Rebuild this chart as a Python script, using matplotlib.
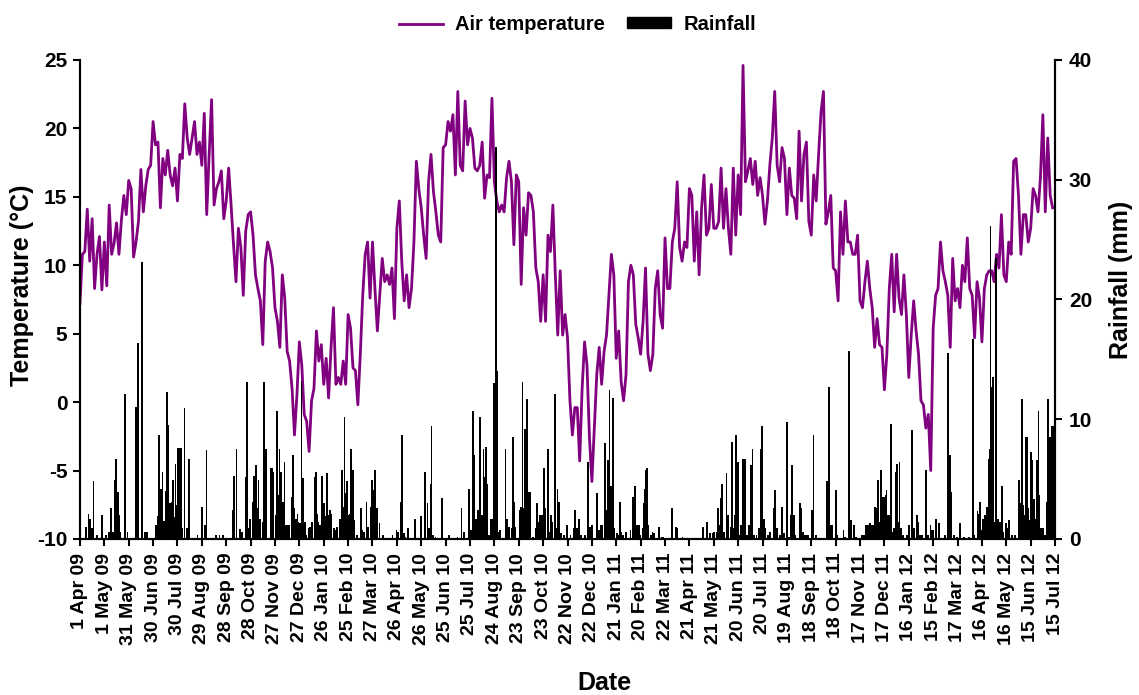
import numpy as np
import matplotlib
matplotlib.use("Agg")
import matplotlib.pyplot as plt
from matplotlib.lines import Line2D
from matplotlib.patches import Rectangle

plt.rcParams['font.family'] = ['Liberation Sans', 'DejaVu Sans']
plt.rcParams['font.weight'] = 'bold'
plt.rcParams['axes.unicode_minus'] = False

# x tick labels, one every 30 days from 1 Apr 2009
date_labels = ['1 Apr 09', '1 May 09', '31 May 09', '30 Jun 09', '30 Jul 09', '29 Aug 09',
               '28 Sep 09', '28 Oct 09', '27 Nov 09', '27 Dec 09', '26 Jan 10', '25 Feb 10',
               '27 Mar 10', '26 Apr 10', '26 May 10', '25 Jun 10', '25 Jul 10', '24 Aug 10',
               '23 Sep 10', '23 Oct 10', '22 Nov 10', '22 Dec 10', '21 Jan 11', '20 Feb 11',
               '22 Mar 11', '21 Apr 11', '21 May 11', '20 Jun 11', '20 Jul 11', '19 Aug 11',
               '18 Sep 11', '18 Oct 11', '17 Nov 11', '17 Dec 11', '16 Jan 12', '15 Feb 12',
               '17 Mar 12', '16 Apr 12', '16 May 12', '15 Jun 12', '15 Jul 12']

# air temperature (deg C), read every 3 days starting 1 Apr 2009
temp_2009a = [7.2, 10.8, 11.0, 14.1, 10.3, 13.4, 8.3, 10.8, 12.1, 8.2,
              11.7, 8.5, 14.4, 10.8, 11.6, 13.1, 10.8, 13.3, 15.1, 13.7,
              16.2, 15.6, 10.6, 11.7, 13.2, 17.0, 13.9, 15.8, 17.0, 17.3,
              20.5, 18.8, 19.0, 14.2, 17.8, 16.6, 18.4, 16.6, 15.8, 17.1,
              14.7, 18.1, 17.8, 21.8, 19.3, 18.1, 19.3, 20.5, 18.1, 19.0,
              17.3, 21.1, 13.7, 18.1, 22.1, 14.4, 15.6, 16.1]
temp_2009b = [16.9, 13.4, 14.7, 17.1, 14.4, 11.5, 8.8, 12.7, 11.3, 7.8,
              12.5, 13.7, 13.9, 12.2, 9.3, 8.3, 7.4, 4.2, 10.3, 11.7,
              11.0, 9.8, 6.9, 5.9, 4.0, 9.3, 7.6, 3.7, 3.0, 1.0,
              -2.4, 0.5, 4.4, 2.7, -0.9, -1.4, -3.6, 0.1, 1.0, 5.2,
              3.0, 4.2, 1.3, 3.2, 0.3, 4.0, 6.9, 1.3, 1.8, 1.3,
              3.0, 1.3, 6.4, 5.4, 2.5, 2.3, -0.2, 3.5]
temp_2010a = [7.8, 10.8, 11.7, 7.6, 11.7, 8.3, 5.2, 7.8, 10.5, 8.8,
              9.3, 8.6, 9.8, 6.1, 12.7, 14.7, 10.3, 7.4, 9.3, 6.9,
              8.3, 11.7, 17.6, 15.6, 14.2, 12.2, 10.5, 16.1, 18.1, 15.4,
              13.9, 12.2, 11.7, 18.6, 18.8, 20.5, 19.8, 21.0, 16.6, 22.7,
              17.3, 16.9, 22.0, 18.8, 20.0, 19.3, 17.1, 16.9, 17.3, 19.0,
              14.9, 16.6, 16.4, 22.2, 16.1, 14.7, 13.9]
temp_2010b = [14.4, 13.9, 16.4, 17.6, 16.1, 11.5, 16.6, 16.1, 8.6, 14.2,
              12.2, 15.3, 15.1, 13.9, 9.8, 8.8, 5.9, 9.3, 5.9, 12.2,
              11.0, 14.4, 9.3, 4.9, 9.6, 4.9, 6.4, 4.7, 0.1, -2.4,
              -0.4, -0.4, -4.3, 1.0, 4.4, 2.7, -2.6, -5.8, -1.9, 2.0,
              4.0, 1.3, 3.7, 4.9, 7.8, 10.8, 9.3, 3.2, 5.2, 1.5,
              0.1, 2.0, 8.8, 10.0, 9.3, 5.7, 4.7]
temp_2011a = [3.5, 5.9, 9.8, 3.5, 2.3, 3.5, 8.3, 9.6, 6.4, 5.4,
              12.0, 8.3, 8.3, 11.7, 12.7, 16.1, 11.3, 10.3, 11.7, 11.3,
              15.6, 15.1, 10.3, 13.9, 9.3, 14.2, 16.6, 12.2, 12.7, 15.9,
              12.7, 12.7, 13.2, 17.1, 12.7, 15.6, 12.7, 10.8, 17.1, 12.2,
              16.6, 13.7, 24.6, 16.1, 16.9, 17.8, 15.9, 17.6, 15.1, 16.4,
              15.1, 13.0, 14.7, 17.3, 19.3, 22.7, 17.3]
temp_2011b = [16.1, 18.6, 17.8, 13.7, 17.1, 15.1, 14.9, 13.4, 19.8, 14.7,
              18.1, 19.0, 13.2, 12.2, 16.6, 14.7, 18.1, 21.2, 22.7, 13.0,
              13.9, 15.1, 9.8, 9.6, 7.4, 13.9, 10.8, 14.7, 11.7, 11.7,
              10.8, 10.8, 12.2, 7.4, 6.9, 8.8, 10.3, 8.3, 6.9, 4.0,
              6.1, 4.2, 4.0, 0.9, 3.5, 8.3, 10.8, 6.6, 10.8, 7.6,
              6.4, 9.3, 6.4, 1.8, 4.9, 7.4, 5.2]
temp_2012 = [3.5, 0.1, -0.2, -1.9, -0.9, -5.0, 5.4, 7.8, 8.3, 11.7,
             9.6, 8.8, 7.8, 4.0, 10.5, 7.4, 8.3, 6.9, 10.0, 8.8,
             12.0, 8.3, 7.8, 4.7, 8.8, 7.6, 4.4, 8.3, 9.3, 9.6,
             9.6, 8.8, 10.8, 9.8, 13.7, 9.3, 8.8, 11.7, 10.8, 17.6,
             17.8, 15.1, 10.8, 13.7, 13.7, 11.7, 12.7, 15.6, 15.1, 13.9,
             16.4, 21.0, 13.9, 19.3, 15.1, 14.2]

# rainfall events (day since 1 Apr 2009, mm)
rain_events = [
    (7, 1.0), (10, 2.1), (12, 1.7), (14, 0.9), (16, 4.8), (20, 0.3), (27, 2.0), (31, 0.3),
    (35, 0.6), (38, 2.6), (40, 0.6), (42, 4.9), (44, 6.7), (46, 3.9), (47, 2.0), (49, 0.6),
    (55, 12.1), (58, 0.6), (68, 11.0), (70, 3.0), (71, 16.4), (76, 23.1), (79, 0.6), (82, 0.6),
    (93, 1.2), (95, 1.9), (97, 8.7), (99, 4.2), (101, 5.6), (103, 1.5), (105, 4.0), (107, 12.3),
    (108, 9.5), (110, 3.0), (111, 2.0), (112, 3.1), (114, 4.9), (116, 1.8), (117, 6.3), (118, 2.8),
    (120, 7.6), (122, 7.6), (124, 7.6), (125, 0.9), (128, 10.9), (131, 0.9), (134, 6.7), (144, 0.3),
    (150, 2.7), (153, 1.2), (155, 7.4), (167, 0.3), (171, 0.3),
    (175, 0.3), (187, 2.4), (189, 5.3), (192, 7.5), (196, 0.8), (199, 0.6), (203, 5.2), (205, 13.1),
    (207, 0.9), (209, 1.7), (212, 3.1), (214, 5.3), (216, 6.2), (217, 2.6), (219, 4.9), (221, 1.7),
    (224, 1.4), (226, 13.1), (228, 7.5), (229, 1.7), (234, 5.9), (236, 5.9), (237, 5.6), (240, 2.0),
    (242, 10.7), (243, 3.7), (245, 7.5), (247, 5.6), (249, 3.1), (251, 6.4), (253, 1.2), (255, 1.2),
    (257, 1.2), (260, 3.5), (262, 7.0), (263, 2.6), (265, 1.7), (267, 2.1), (268, 1.4), (270, 1.3),
    (272, 13.2), (274, 5.1), (276, 1.4), (278, 0.3), (281, 0.9), (282, 1.0), (285, 1.4), (288, 5.2),
    (290, 5.6), (291, 2.1), (293, 1.4), (295, 1.2), (297, 5.3), (300, 3.0), (301, 1.9), (303, 5.5),
    (305, 2.0), (307, 2.4), (309, 2.1), (312, 0.9), (314, 0.75), (316, 1.0), (319, 1.7), (322, 5.8),
    (323, 2.7), (325, 10.2), (326, 3.8), (328, 4.8), (330, 2.0), (332, 2.1), (333, 7.5), (335, 5.8),
    (337, 1.6), (340, 0.3), (345, 2.6),
    (347, 0.75), (349, 0.6), (352, 3.1), (354, 1.0), (357, 2.7), (359, 4.9), (360, 4.1), (362, 5.8),
    (363, 4.5), (365, 2.6), (368, 1.3), (372, 0.3), (384, 0.3), (389, 0.75), (391, 0.6), (394, 3.1),
    (396, 8.7), (398, 0.5), (400, 0.2), (403, 0.9), (412, 1.7), (419, 1.9), (424, 5.6), (427, 3.0),
    (429, 0.9), (431, 4.6), (432, 9.4), (434, 0.3), (437, 0.2), (445, 3.4), (454, 0.3), (464, 0.2),
    (469, 2.6), (472, 0.6), (478, 4.2), (481, 0.75), (483, 10.7), (485, 7.0), (487, 1.7), (489, 2.4),
    (490, 2.3), (492, 10.2), (494, 2.0), (496, 7.5), (497, 5.2), (499, 7.7), (501, 4.6), (503, 0.3),
    (505, 1.7), (507, 1.7), (509, 13.0), (511, 32.7), (513, 14.0), (514, 0.6),
    (516, 0.75), (523, 7.5), (525, 1.7), (527, 1.0), (531, 0.9), (532, 8.5), (534, 3.1), (535, 1.0),
    (541, 2.4), (542, 2.7), (544, 13.1), (546, 2.6), (547, 9.2), (549, 0.1), (550, 11.7), (551, 3.9),
    (553, 3.9), (557, 0.2), (560, 0.9), (562, 3.0), (564, 1.4), (565, 0.9), (566, 2.0), (568, 2.0),
    (570, 5.9), (572, 2.6), (575, 7.5), (577, 0.6), (579, 2.0), (581, 1.4), (584, 12.1), (586, 0.9),
    (587, 4.2), (589, 3.1), (591, 0.5), (595, 0.3), (599, 1.2), (603, 0.3), (607, 0.9), (609, 2.4),
    (611, 0.9), (614, 1.7), (616, 0.3), (621, 0.3), (624, 2.4), (625, 6.4), (627, 1.0), (630, 1.2),
    (636, 3.8), (638, 0.75), (640, 1.2), (642, 1.2), (645, 1.9), (646, 8.0), (648, 2.4), (649, 6.6),
    (651, 12.4), (653, 4.4), (655, 11.8), (657, 0.9), (660, 0.5), (662, 0.3), (664, 3.1), (665, 0.6),
    (668, 0.3), (671, 0.6), (677, 0.75), (680, 3.5), (682, 4.4), (684, 1.2), (686, 1.2),
    (687, 1.2), (689, 0.3), (692, 0.9), (693, 3.0), (695, 4.2), (696, 5.8), (697, 5.9), (698, 1.2),
    (702, 0.3), (704, 0.6), (706, 0.5), (712, 1.0), (715, 0.2), (717, 0.2), (728, 2.6), (733, 1.0),
    (734, 0.9), (741, 0.2), (766, 1.0), (771, 1.4), (775, 0.5), (778, 0.5), (780, 0.6), (783, 0.6),
    (785, 2.6), (786, 1.2), (788, 3.4), (790, 4.6), (792, 0.6), (795, 5.5), (797, 2.0), (800, 1.0),
    (802, 8.1), (804, 0.9), (806, 2.0), (807, 8.7), (809, 6.4), (811, 0.3), (813, 1.2), (815, 6.7),
    (818, 6.7), (820, 0.3), (823, 1.2), (825, 6.2), (827, 7.5), (829, 0.3), (832, 0.3), (835, 0.9),
    (837, 7.5), (839, 9.4), (841, 1.7), (843, 0.9), (846, 0.3), (849, 0.6), (853, 2.6), (855, 4.1),
    (857, 0.9),
    (861, 0.3), (863, 2.7), (864, 2.1), (866, 0.5), (870, 9.8), (872, 0.2), (874, 2.0), (875, 3.0),
    (876, 6.2), (878, 2.0), (880, 0.3), (886, 3.0), (887, 2.6), (889, 0.6), (892, 0.3), (894, 0.3),
    (896, 0.3), (900, 2.4), (902, 8.7), (905, 0.3), (918, 4.8), (920, 4.8), (921, 12.7), (923, 1.2),
    (925, 1.2), (930, 4.1), (931, 0.3), (939, 0.75), (941, 0.2), (946, 15.7), (948, 1.6), (952, 1.2),
    (954, 0.2), (962, 0.3), (964, 0.3), (967, 1.2), (969, 1.2), (972, 1.3), (974, 1.2), (976, 1.2),
    (978, 2.7), (980, 2.6), (981, 4.9), (983, 1.4), (985, 5.8), (987, 3.5), (989, 3.5), (991, 3.7),
    (992, 4.1), (994, 2.0), (996, 2.0), (997, 9.6), (999, 0.6), (1001, 0.9), (1003, 5.6), (1005, 6.3),
    (1006, 1.4), (1008, 6.4), (1010, 0.9), (1012, 0.3), (1017, 0.3), (1020, 1.2), (1023, 9.1),
    (1024, 8.4), (1026, 0.9), (1029, 2.0), (1031, 1.4),
    (1033, 0.3), (1036, 0.3), (1041, 5.8), (1043, 0.3), (1046, 1.2), (1048, 0.75), (1049, 0.75),
    (1053, 1.7), (1057, 1.3), (1064, 0.3), (1068, 15.5), (1070, 7.0), (1071, 3.9), (1075, 0.3),
    (1079, 0.2), (1082, 1.3), (1083, 0.9), (1087, 0.2), (1093, 0.2), (1098, 16.7), (1100, 0.3),
    (1104, 2.3), (1105, 2.1), (1107, 3.1), (1109, 0.75), (1110, 0.9), (1111, 1.7), (1113, 2.0),
    (1114, 1.4), (1116, 2.7), (1118, 6.7), (1119, 7.5), (1120, 26.1), (1122, 12.7), (1123, 13.5),
    (1125, 1.4), (1126, 5.5), (1127, 23.5), (1129, 1.7), (1130, 0.9), (1132, 1.4), (1134, 4.4),
    (1136, 0.6), (1139, 1.3), (1141, 0.9), (1143, 1.6), (1146, 0.3), (1150, 0.3), (1155, 4.9),
    (1157, 3.0), (1159, 11.7), (1160, 2.8), (1162, 2.0), (1163, 8.5), (1165, 8.5), (1166, 2.6),
    (1168, 1.6), (1170, 7.3), (1171, 6.6), (1173, 3.3), (1176, 1.7), (1177, 6.6), (1179, 10.7),
    (1180, 3.7), (1182, 0.9), (1185, 0.9), (1187, 0.3), (1189, 3.1), (1190, 4.4), (1191, 11.7),
    (1193, 8.5), (1194, 0.9), (1196, 9.4), (1198, 9.4),
]

temp = np.array(temp_2009a + temp_2009b + temp_2010a + temp_2010b
                + temp_2011a + temp_2011b + temp_2012)
temp_day = np.arange(len(temp)) * 3
rain_day = np.array([d for d, r in rain_events])
rain_mm = np.array([r for d, r in rain_events])

fig = plt.figure(figsize=(11.39, 6.95), dpi=100)
ax = fig.add_axes([0.0702, 0.2245, 0.8561, 0.6892])
ax2 = ax.twinx()

purple = '#800080'
ax.plot(temp_day, temp, color=purple, lw=2.0, solid_joinstyle='round', zorder=2)
ax2.bar(rain_day, rain_mm, width=1.0, color='black', edgecolor='black', linewidth=0.5,
        antialiased=False)

ax.set_xlim(0, 1200)
ax.set_ylim(-10, 25)
ax2.set_ylim(0, 40)
ax.set_yticks(np.arange(-10, 26, 5))
ax2.set_yticks(np.arange(0, 41, 10))
ax.set_xticks(np.arange(0, 1201, 30))
ax.set_xticklabels(date_labels, rotation=90, fontsize=14, fontweight='bold')
ax.tick_params(axis='y', labelsize=15, length=5, width=1.5, direction='out', pad=4)
ax.tick_params(axis='x', length=5, width=1.5, direction='out', pad=5)
ax2.tick_params(axis='y', labelsize=15, length=5, width=1.5, direction='out', pad=5)

for a in (ax, ax2):
    a.spines['top'].set_visible(False)
    for s in ('left', 'right', 'bottom'):
        a.spines[s].set_linewidth(1.5)

fig.text(22 / 1139, 1 - 285 / 695, 'Temperature (°C)', rotation=90, ha='center',
         va='center', fontsize=18, fontweight='bold')
fig.text(1121 / 1139, 1 - 280 / 695, 'Rainfall (mm)', rotation=90, ha='center',
         va='center', fontsize=18, fontweight='bold')
fig.text(604 / 1139, 1 - 683 / 695, 'Date', ha='center', va='center',
         fontsize=18, fontweight='bold')

handles = [Line2D([], [], color=purple, lw=2.0),
           Rectangle((0, 0), 1, 1, facecolor='black', edgecolor='black')]
fig.legend(handles, ['Air temperature', 'Rainfall'], loc='center',
           bbox_to_anchor=(0.507, 0.965), ncol=2, frameon=False, fontsize=14.5,
           handlelength=2.2, handleheight=0.45, handletextpad=0.6, columnspacing=1.1)

fig.savefig('out.png', dpi=100)
